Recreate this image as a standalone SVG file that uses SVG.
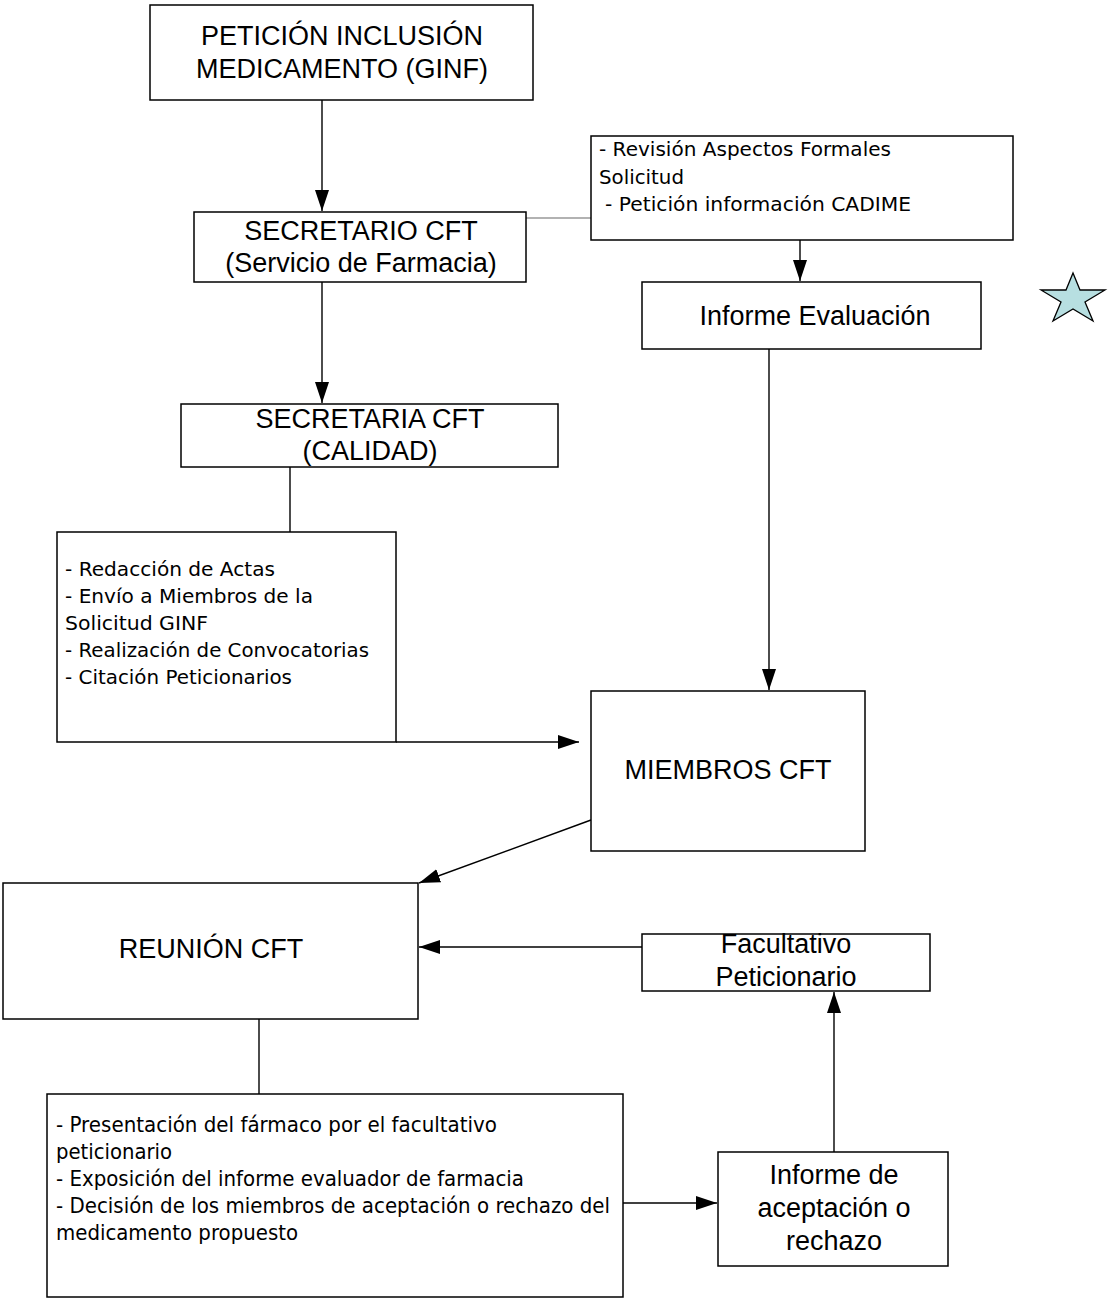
<svg xmlns="http://www.w3.org/2000/svg" width="1108" height="1299" viewBox="0 0 1108 1299">
<defs>
<marker id="arr" markerUnits="userSpaceOnUse" markerWidth="22" markerHeight="16" refX="21" refY="7" orient="auto">
<path d="M0,0 L21,7 L0,14 z" fill="#000"/>
</marker>
<style>
.box{fill:#fff;stroke:#000;stroke-width:1.5}
.t{font-family:"Liberation Sans",Arial,sans-serif;font-size:27px;fill:#000;text-anchor:middle}
.l{font-family:"DejaVu Sans",Tahoma,sans-serif;font-size:20px;fill:#000}
.lb{font-family:"DejaVu Sans",Tahoma,sans-serif;font-size:21px;fill:#000}
.c{stroke:#000;stroke-width:1.4;fill:none}
</style>
</defs>
<rect width="1108" height="1299" fill="#fff"/>
<g id="connectors">
<line class="c" x1="322" y1="100" x2="322" y2="211" marker-end="url(#arr)"/>
<line x1="526" y1="218" x2="591" y2="218" stroke="#666" stroke-width="1.2"/>
<line class="c" x1="800" y1="240" x2="800" y2="281" marker-end="url(#arr)"/>
<line class="c" x1="322" y1="282" x2="322" y2="403" marker-end="url(#arr)"/>
<line class="c" x1="290" y1="467" x2="290" y2="532"/>
<line class="c" x1="396" y1="742" x2="579" y2="742" marker-end="url(#arr)"/>
<line class="c" x1="769" y1="349" x2="769" y2="690" marker-end="url(#arr)"/>
<line class="c" x1="591" y1="820" x2="419" y2="883" marker-end="url(#arr)"/>
<line class="c" x1="642" y1="947" x2="419" y2="947" marker-end="url(#arr)"/>
<line class="c" x1="259" y1="1019" x2="259" y2="1094"/>
<line class="c" x1="623" y1="1203" x2="717" y2="1203" marker-end="url(#arr)"/>
<line class="c" x1="834" y1="1152" x2="834" y2="992" marker-end="url(#arr)"/>
</g>
<g id="peticion">
<rect class="box" x="150" y="5" width="383" height="95"/>
<text class="t" x="342" y="45">PETICIÓN INCLUSIÓN</text>
<text class="t" x="342" y="78">MEDICAMENTO (GINF)</text>
</g>
<g id="secretario">
<rect class="box" x="194" y="212" width="332" height="70"/>
<text class="t" x="361" y="240">SECRETARIO CFT</text>
<text class="t" x="361" y="272">(Servicio de Farmacia)</text>
</g>
<g id="revision">
<rect class="box" x="591" y="136" width="422" height="104"/>
<text class="l" x="599" y="156" textLength="292" lengthAdjust="spacingAndGlyphs">- Revisión Aspectos Formales</text>
<text class="l" x="599" y="184" textLength="85" lengthAdjust="spacingAndGlyphs">Solicitud</text>
<text class="l" x="605" y="211" textLength="306" lengthAdjust="spacingAndGlyphs">- Petición información CADIME</text>
</g>
<g id="informe-evaluacion">
<rect class="box" x="642" y="282" width="339" height="67"/>
<text class="t" x="815" y="325">Informe Evaluación</text>
</g>
<g id="star">
<polygon points="1073,273 1080,290 1105,290 1085,302 1093,321 1073,309 1053,321 1061,302 1041,290 1066,290" fill="#b7dfe1" stroke="#000" stroke-width="1.3"/>
</g>
<g id="secretaria">
<rect class="box" x="181" y="404" width="377" height="63"/>
<text class="t" x="370" y="428">SECRETARIA CFT</text>
<text class="t" x="370" y="460">(CALIDAD)</text>
</g>
<g id="tareas-secretaria">
<rect class="box" x="57" y="532" width="339" height="210"/>
<text class="l" x="65" y="576" textLength="210" lengthAdjust="spacingAndGlyphs">- Redacción de Actas</text>
<text class="l" x="65" y="603" textLength="248" lengthAdjust="spacingAndGlyphs">- Envío a Miembros de la</text>
<text class="l" x="65" y="630" textLength="143" lengthAdjust="spacingAndGlyphs">Solicitud GINF</text>
<text class="l" x="65" y="657" textLength="304" lengthAdjust="spacingAndGlyphs">- Realización de Convocatorias</text>
<text class="l" x="65" y="684" textLength="227" lengthAdjust="spacingAndGlyphs">- Citación Peticionarios</text>
</g>
<g id="miembros">
<rect class="box" x="591" y="691" width="274" height="160"/>
<text class="t" x="728" y="779">MIEMBROS CFT</text>
</g>
<g id="reunion">
<rect class="box" x="3" y="883" width="415" height="136"/>
<text class="t" x="211" y="958">REUNIÓN CFT</text>
</g>
<g id="facultativo">
<rect class="box" x="642" y="934" width="288" height="57"/>
<text class="t" x="786" y="953">Facultativo</text>
<text class="t" x="786" y="986">Peticionario</text>
</g>
<g id="tareas-reunion">
<rect class="box" x="47" y="1094" width="576" height="203"/>
<text class="lb" x="56" y="1132" textLength="441" lengthAdjust="spacingAndGlyphs">- Presentación del fármaco por el facultativo</text>
<text class="lb" x="56" y="1159" textLength="116" lengthAdjust="spacingAndGlyphs">peticionario</text>
<text class="lb" x="56" y="1186" textLength="468" lengthAdjust="spacingAndGlyphs">- Exposición del informe evaluador de farmacia</text>
<text class="lb" x="56" y="1213" textLength="554" lengthAdjust="spacingAndGlyphs">- Decisión de los miembros de aceptación o rechazo del</text>
<text class="lb" x="56" y="1240" textLength="242" lengthAdjust="spacingAndGlyphs">medicamento propuesto</text>
</g>
<g id="informe-aceptacion">
<rect class="box" x="718" y="1152" width="230" height="114"/>
<text class="t" x="834" y="1184">Informe de</text>
<text class="t" x="834" y="1217">aceptación o</text>
<text class="t" x="834" y="1250">rechazo</text>
</g>
</svg>
